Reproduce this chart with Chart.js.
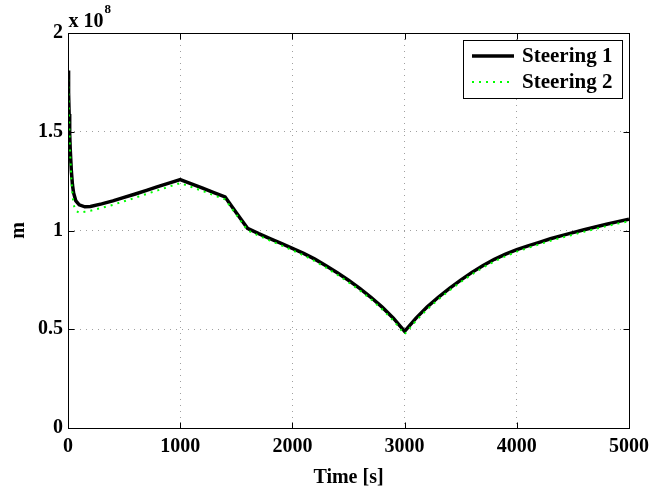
<!DOCTYPE html>
<html>
<head>
<meta charset="utf-8">
<script src="https://cdn.jsdelivr.net/npm/chart.js@4.4.1/dist/chart.umd.min.js"></script>
<style>
  html, body { margin: 0; padding: 0; background: #fff; }
  canvas { display: block; }
</style>
</head>
<body>
<canvas id="chart" width="667" height="494"></canvas>
<script>
// time samples [s] and mass for both steering laws (units of 1e8)
const times = [0, 5, 10, 15, 20, 30, 40, 50, 70, 100, 150, 200, 300, 400, 500, 600, 700, 800, 900, 1000,
  1100, 1200, 1300, 1400, 1500, 1600, 1700, 1800, 1900, 2000, 2100, 2200, 2300, 2400, 2500, 2600, 2700,
  2800, 2900, 3000, 3100, 3200, 3300, 3400, 3500, 3600, 3700, 3800, 3900, 4000, 4100, 4200, 4300, 4400,
  4500, 4600, 4700, 4800, 4900, 5000];
const steering1 = [1.81, 1.70, 1.59, 1.49, 1.41, 1.30, 1.23, 1.19, 1.15, 1.13, 1.12, 1.122, 1.135, 1.15, 1.168, 1.185, 1.203, 1.222, 1.24, 1.258,
  1.236, 1.214, 1.192, 1.17, 1.09, 1.011, 0.984, 0.959, 0.935, 0.910, 0.884, 0.855, 0.822, 0.786, 0.748, 0.707, 0.662,
  0.612, 0.556, 0.489, 0.555, 0.612, 0.662, 0.707, 0.749, 0.788, 0.823, 0.854, 0.880, 0.903, 0.922, 0.940, 0.958, 0.974,
  0.989, 1.004, 1.018, 1.032, 1.045, 1.057];
const steering2 = [1.80, 1.68, 1.57, 1.46, 1.38, 1.26, 1.18, 1.13, 1.10, 1.09, 1.095, 1.10, 1.115, 1.13, 1.148, 1.166, 1.185, 1.203, 1.222, 1.24,
  1.22, 1.20, 1.178, 1.158, 1.08, 1.001, 0.974, 0.949, 0.925, 0.900, 0.874, 0.845, 0.812, 0.776, 0.738, 0.697, 0.652,
  0.601, 0.544, 0.475, 0.542, 0.600, 0.651, 0.697, 0.739, 0.778, 0.813, 0.844, 0.870, 0.893, 0.912, 0.930, 0.948, 0.964,
  0.979, 0.994, 1.008, 1.022, 1.035, 1.047];
const seriesNames = ["Steering 1", "Steering 2"];
const xTicks = [0, 1000, 2000, 3000, 4000, 5000];
const yTicks = [0, 0.5, 1, 1.5, 2];

const serif = "'Liberation Serif', 'Times New Roman', serif";

function toPoints(values) {
  return times.map((t, i) => ({ x: t, y: values[i] }));
}

// MATLAB style box, inward ticks, exponent label and legend
const matlabFrame = {
  id: "matlabFrame",
  afterDraw(chart) {
    const { ctx, chartArea: a, scales } = chart;
    const left = Math.round(a.left) + 0.5, right = Math.round(a.right) + 0.5;
    const top = Math.round(a.top) + 0.5, bottom = Math.round(a.bottom) + 0.5;
    ctx.save();
    ctx.strokeStyle = "#000";
    ctx.lineWidth = 1;
    ctx.setLineDash([]);
    ctx.strokeRect(left, top, right - left, bottom - top);

    ctx.beginPath();
    xTicks.forEach(v => {
      const px = Math.round(scales.x.getPixelForValue(v)) + 0.5;
      ctx.moveTo(px, bottom); ctx.lineTo(px, bottom - 6);
      ctx.moveTo(px, top); ctx.lineTo(px, top + 6);
    });
    yTicks.forEach(v => {
      const py = Math.round(scales.y.getPixelForValue(v)) + 0.5;
      ctx.moveTo(left, py); ctx.lineTo(left + 6, py);
      ctx.moveTo(right, py); ctx.lineTo(right - 6, py);
    });
    ctx.stroke();

    // exponent
    ctx.fillStyle = "#000";
    ctx.textBaseline = "alphabetic";
    ctx.textAlign = "left";
    ctx.font = "bold 20px " + serif;
    ctx.fillText("x 10", left, 27);
    const w = ctx.measureText("x 10").width;
    ctx.font = "bold 13px " + serif;
    ctx.fillText("8", left + w + 1, 13);

    // legend
    const lx = 463.5, ly = 40.5, lw = 159, lh = 58;
    ctx.fillStyle = "#fff";
    ctx.fillRect(lx, ly, lw, lh);
    ctx.strokeStyle = "#000";
    ctx.lineWidth = 1;
    ctx.strokeRect(lx, ly, lw, lh);
    chart.data.datasets.forEach((ds, i) => {
      const y = 56 + i * 26;
      ctx.save();
      ctx.strokeStyle = ds.borderColor;
      ctx.lineWidth = ds.borderWidth;
      ctx.setLineDash(ds.borderDash || []);
      ctx.beginPath();
      ctx.moveTo(472, y);
      ctx.lineTo(514, y);
      ctx.stroke();
      ctx.restore();
      ctx.fillStyle = "#000";
      ctx.font = "bold 21px " + serif;
      ctx.textBaseline = "middle";
      ctx.fillText(ds.label, 522, y + 1);
    });
    ctx.restore();
  }
};

window.onload = function () {
  new Chart(document.getElementById("chart"), {
    type: "line",
    data: {
      datasets: [{
        label: seriesNames[0],
        data: toPoints(steering1),
        borderColor: "#000000",
        borderWidth: 3.5,
        pointRadius: 0,
        tension: 0,
        order: 1
      }, {
        label: seriesNames[1],
        data: toPoints(steering2),
        borderColor: "#00ff00",
        borderWidth: 2,
        borderDash: [2, 5],
        pointRadius: 0,
        tension: 0,
        order: 0
      }]
    },
    options: {
      responsive: false,
      animation: false,
      devicePixelRatio: 1,
      layout: { padding: { top: 33, right: 38, left: 0, bottom: 0 } },
      plugins: {
        legend: { display: false },
        tooltip: { enabled: false }
      },
      scales: {
        x: {
          type: "linear",
          min: 0,
          max: 5000,
          afterFit: s => { s.height = 66; },
          afterBuildTicks: s => { s.ticks = xTicks.map(v => ({ value: v })); },
          grid: { color: "#a0a0a0", lineWidth: 1, drawTicks: false },
          border: { display: false, dash: [1, 5] },
          ticks: {
            color: "#000",
            padding: 7,
            maxRotation: 0,
            font: { family: serif, size: 20, weight: "bold" },
            callback: v => String(v)
          },
          title: {
            display: true,
            text: "Time [s]",
            color: "#000",
            padding: { top: 0, bottom: 4 },
            font: { family: serif, size: 20, weight: "bold" }
          }
        },
        y: {
          type: "linear",
          min: 0,
          max: 2,
          afterFit: s => { s.width = 68; },
          afterBuildTicks: s => { s.ticks = yTicks.map(v => ({ value: v })); },
          grid: { color: "#a0a0a0", lineWidth: 1, drawTicks: false },
          border: { display: false, dash: [1, 5] },
          ticks: {
            color: "#000",
            padding: 5,
            font: { family: serif, size: 20, weight: "bold" },
            callback: v => String(v)
          },
          title: {
            display: true,
            text: "m",
            color: "#000",
            padding: { top: 7, bottom: 0 },
            font: { family: serif, size: 20, weight: "bold" }
          }
        }
      }
    },
    plugins: [matlabFrame]
  });
};
</script>
</body>
</html>
